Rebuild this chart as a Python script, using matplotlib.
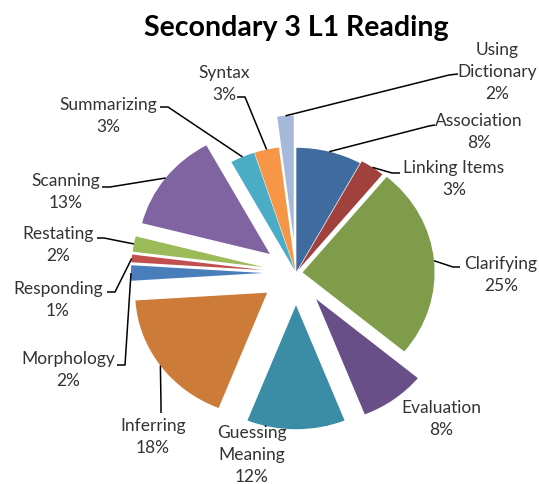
import numpy as np
import matplotlib
matplotlib.use("Agg")
import matplotlib.pyplot as plt

# ====== DATA ======
categories = ["Association", "Linking Items", "Clarifying", "Evaluation",
              "Guessing\nMeaning", "Inferring", "Morphology", "Responding",
              "Restating", "Scanning", "Summarizing", "Syntax", "Using\nDictionary"]
percent = [8, 3, 25, 8, 12, 18, 2, 1, 2, 13, 3, 3, 2]
explode = [0.01, 0.03, 0.05, 0.26, 0.26, 0.27, 0.25, 0.25, 0.25, 0.25, 0.02, 0.02, 0.27]
colors = ["#3F6B9F", "#A0413E", "#7F9C4A", "#684F88", "#3B8CA5", "#CD7B38",
          "#4A7EBB", "#C0504D", "#9BBB59", "#8064A2", "#4BACC6", "#F79646", "#A7B9DA"]

# ====== LAYOUT (pixels of the 539x484 picture) ======
W, H = 539, 484
CX, CY, RX, RY = 296, 273, 132, 124   # pie centre and radii (image is a bit stretched)

label_pos = [(479, 132), (454, 179), (501, 275), (441, 419), (252, 455), (153, 437),
             (68, 370), (58, 300), (58, 245), (66, 192), (108, 116), (224, 84), (497, 72)]
# leader line: start at label, short elbow, then to the slice (None = no line)
leaders = [((435, 125), (429, 126)), ((400, 173), (392, 173)), ((460, 267), (453, 267)),
           None, None, ((161, 413), (161, 405)),
           ((117, 365), (125, 365)), ((107, 292), (115, 292)), ((97, 238), (104, 238)),
           ((102, 187), (110, 187)), ((160, 107), (168, 107)), ((237, 97), (245, 97)),
           ((458, 74), (449, 75))]


def px(x, y):
    return (x - CX) / RX, (CY - y) / RY


plt.rcParams["font.family"] = ["Lato", "DejaVu Sans"]

fig = plt.figure(figsize=(W / 100, H / 100), dpi=100)
ax = fig.add_axes([0, 0, 1, 1])

ax.pie(percent, explode=explode, colors=colors, startangle=90, counterclock=False,
       radius=1, wedgeprops=dict(linewidth=0))
ax.set_aspect("auto")
ax.set_xlim(-CX / RX, (W - CX) / RX)
ax.set_ylim(-(H - CY) / RY, CY / RY)
ax.axis("off")

fracs = np.array(percent) / np.sum(percent)
cum = np.cumsum(fracs) - fracs / 2
mid = np.deg2rad(90 - 360 * cum)

for i, name in enumerate(categories):
    lx, ly = px(*label_pos[i])
    ax.text(lx, ly, f"{name}\n{percent[i]}%", ha="center", va="center",
            fontsize=12.5, color="#333333", linespacing=1.45)
    if leaders[i] is not None:
        a, e = leaders[i]
        r = 1 + explode[i]
        tx, ty = r * np.cos(mid[i]), r * np.sin(mid[i])
        ax_, ay_ = px(*a)
        ex_, ey_ = px(*e)
        ax.plot([ax_, ex_, tx], [ay_, ey_, ty], color="black", lw=1.1,
                solid_capstyle="butt")

tx, ty = px(296, 28)
ax.text(tx, ty, "Secondary 3 L1 Reading", ha="center", va="center",
        fontsize=20.5, fontweight="bold", color="black")

fig.savefig("out.png", dpi=100, facecolor="white")
